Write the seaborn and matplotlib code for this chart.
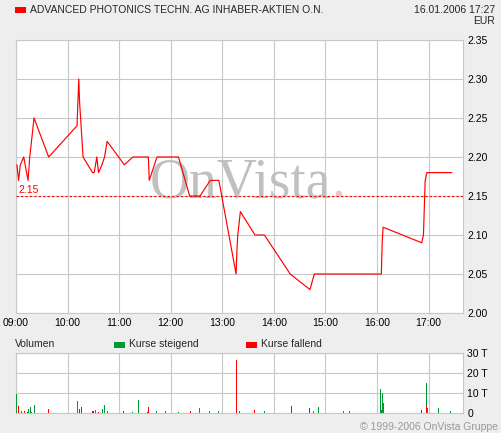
import pandas as pd
import seaborn as sns
import matplotlib.pyplot as plt
from matplotlib.patches import Rectangle

# price ticks (time, EUR)
price_times = ["09:01", "09:03", "09:05", "09:09", "09:14", "09:16", "09:18", "09:21",
               "09:38", "10:11", "10:13", "10:14", "10:18", "10:29", "10:31", "10:34",
               "10:36", "10:40", "10:43", "10:46", "11:06", "11:16", "11:34", "11:35",
               "11:44", "12:09", "12:22", "12:34", "12:46", "12:56", "13:16", "13:17",
               "13:18", "13:21", "13:38", "13:49", "14:19", "14:42", "14:47", "16:05",
               "16:06", "16:07", "16:52", "16:54", "16:56", "16:58", "17:27"]
price_values = [2.19, 2.17, 2.19, 2.20, 2.17, 2.20, 2.22, 2.25,
                2.20, 2.24, 2.30, 2.27, 2.20, 2.18, 2.18, 2.20,
                2.18, 2.19, 2.20, 2.22, 2.19, 2.20, 2.20, 2.17,
                2.20, 2.20, 2.15, 2.15, 2.17, 2.17, 2.05, 2.08,
                2.10, 2.13, 2.10, 2.10, 2.05, 2.03, 2.05, 2.05,
                2.09, 2.11, 2.09, 2.10, 2.17, 2.18, 2.18]
prev_close = 2.15

# volume (time, thousands, direction)
vol_times = ["09:01", "09:03", "09:06", "09:10", "09:13", "09:14", "09:17", "09:18", "09:21",
             "09:38", "10:11", "10:12", "10:14", "10:16", "10:29", "10:30", "10:33", "10:36",
             "10:41", "10:43", "10:46", "11:05", "11:16", "11:23", "11:33", "11:34", "11:44",
             "11:54", "12:09", "12:23", "12:34", "12:45", "12:56", "13:16", "13:20", "13:38",
             "13:49", "14:20", "14:21", "14:41", "14:46", "14:52", "15:21", "15:28", "16:04",
             "16:05", "16:06", "16:07", "16:52", "16:57", "16:58", "16:59", "17:12", "17:26"]
vol_values = [9.7, 3.7, 1.2, 1.2, 0.7, 2.0, 3.0, 0.7, 4.2,
              2.2, 2.5, 6.2, 2.2, 3.2, 1.2, 1.2, 1.7, 0.7,
              2.2, 4.2, 1.2, 1.2, 0.7, 6.7, 0.7, 3.2, 1.2,
              1.2, 0.7, 1.2, 2.7, 1.2, 1.2, 26.7, 1.2, 1.7,
              1.2, 3.7, 2.2, 2.7, 1.2, 3.2, 1.2, 1.2, 12.2,
              1.7, 10.2, 5.2, 1.7, 15.2, 4.2, 2.7, 2.7, 1.2]
vol_dir = ["up", "down", "up", "down", "down", "up", "up", "up", "up",
           "down", "up", "up", "down", "down", "down", "down", "up", "down",
           "up", "up", "up", "down", "up", "up", "down", "down", "up",
           "up", "up", "down", "up", "up", "up", "down", "up", "down",
           "up", "down", "up", "down", "up", "up", "up", "up", "up",
           "up", "up", "up", "down", "up", "down", "up", "up", "up"]

hour_ticks = [9, 10, 11, 12, 13, 14, 15, 16, 17]
hour_labels = ["09:00", "10:00", "11:00", "12:00", "13:00", "14:00", "15:00", "16:00", "17:00"]
price_ticks = [2.00, 2.05, 2.10, 2.15, 2.20, 2.25, 2.30, 2.35]
vol_ticks = [0, 10, 20, 30]
vol_labels = ["0", "10 T", "20 T", "30 T"]


def to_hours(t):
    h, m = t.split(":")
    return int(h) + int(m) / 60


price_df = pd.DataFrame({"t": [to_hours(t) for t in price_times], "price": price_values})
vol_df = pd.DataFrame({"t": [to_hours(t) for t in vol_times], "vol": vol_values, "dir": vol_dir})

sns.set_theme(style="white")
plt.rcParams["font.family"] = ["Liberation Sans", "DejaVu Sans"]

BG = "#EEEEEE"
GRID = "#C8C8C8"
RED = "#FF0000"
GREEN = "#009933"
FS = 7.5
W, H = 501, 433

fig = plt.figure(figsize=(W / 100, H / 100), dpi=100, facecolor=BG)


def px_axes(x0, y0, x1, y1):
    return fig.add_axes([x0 / W, 1 - y1 / H, (x1 - x0) / W, (y1 - y0) / H])


xmin, xmax = 9, 9 + 520 / 60

# price panel
ax = px_axes(16, 40, 463, 313)
ax.set_facecolor("white")
sns.lineplot(data=price_df, x="t", y="price", color=RED, linewidth=0.85,
             estimator=None, sort=False, ax=ax, zorder=3)
ax.axhline(prev_close, color=RED, linewidth=0.8, linestyle=(0, (2, 2)), zorder=3)
ax.text(xmin + 0.04, prev_close + 0.001, "2.15", color=RED, fontsize=FS,
        va="bottom", ha="left", zorder=4)
ax.set_xlim(xmin, xmax)
ax.set_ylim(2.0, 2.35)
ax.set_xticks(hour_ticks)
ax.set_xticklabels(hour_labels)
ax.set_yticks(price_ticks)
ax.set_yticklabels([f"{v:.2f}" for v in price_ticks])
ax.yaxis.tick_right()
ax.tick_params(axis="both", length=0, labelsize=FS, colors="black")
ax.tick_params(axis="x", pad=3.5)
ax.tick_params(axis="y", pad=3)
ax.grid(True, color=GRID, linewidth=0.8)
ax.set_axisbelow(True)
ax.set_xlabel("")
ax.set_ylabel("")
for s in ax.spines.values():
    s.set_color(GRID)
    s.set_linewidth(0.8)

# watermark
wm = ax.text(150 / W, 1 - 197 / H, "OnVista", transform=fig.transFigure,
             fontsize=40, family="Liberation Serif", color="#C0C0C0",
             ha="left", va="baseline", zorder=1)
ax.annotate(".", xy=(1, 0), xycoords=wm, fontsize=40, family="Liberation Serif",
            color="#F2C4C4", ha="left", va="bottom", zorder=1)

# volume panel
vx = px_axes(16, 353, 463, 413)
vx.set_facecolor("white")
for d, c in [("up", GREEN), ("down", RED)]:
    sub = vol_df[vol_df["dir"] == d]
    vx.bar(sub["t"], sub["vol"], width=0.02, color=c, linewidth=0,
           antialiased=False, zorder=3)
vx.set_xlim(xmin, xmax)
vx.set_ylim(0, 30)
vx.set_xticks(hour_ticks)
vx.set_xticklabels([])
vx.set_yticks(vol_ticks)
vx.set_yticklabels(vol_labels)
vx.yaxis.tick_right()
vx.tick_params(axis="both", length=0, labelsize=FS, colors="black")
vx.tick_params(axis="y", pad=3)
vx.grid(True, color=GRID, linewidth=0.8)
vx.set_axisbelow(True)
for s in vx.spines.values():
    s.set_color(GRID)
    s.set_linewidth(0.8)


def fig_text(x, y, s, **kw):
    fig.text(x / W, 1 - y / H, s, va="center", fontsize=FS, **kw)


def fig_box(x0, y0, x1, y1, color):
    fig.patches.append(Rectangle((x0 / W, 1 - y1 / H), (x1 - x0) / W, (y1 - y0) / H,
                                 transform=fig.transFigure, color=color, linewidth=0))


# header
fig_box(15, 7, 26, 12.5, RED)
fig_text(30, 10, "ADVANCED PHOTONICS TECHN. AG INHABER-AKTIEN O.N.", ha="left")
fig_text(495, 10, "16.01.2006 17:27", ha="right")
fig_text(495, 20.5, "EUR", ha="right")

# volume legend
fig_text(15, 344, "Volumen", ha="left")
fig_box(114, 342, 125, 347.5, GREEN)
fig_text(129, 344, "Kurse steigend", ha="left")
fig_box(246, 342, 257, 347.5, RED)
fig_text(261, 344, "Kurse fallend", ha="left")

fig_text(498, 427, "\u00a9 1999-2006 OnVista Gruppe", ha="right", color="#999999")

fig.savefig("out.png", dpi=100, facecolor=BG)
